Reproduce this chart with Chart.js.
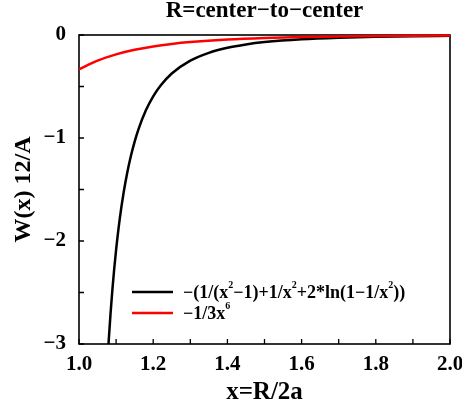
<!DOCTYPE html>
<html><head><meta charset="utf-8">
<script src="https://cdn.jsdelivr.net/npm/chart.js@4.4.0/dist/chart.umd.min.js"></script>
<style>html,body{margin:0;padding:0;background:#fff}#c{display:block}</style>
</head><body>
<canvas id="c" width="462" height="407"></canvas>
<script>
// Exact interaction curve (black)
const xExact = [1.075,1.08,1.085,1.09,1.095,1.10,1.11,1.12,1.13,1.14,1.15,1.16,1.18,1.20,1.22,1.25,1.30,1.35,1.40,1.45,1.50,1.60,1.70,1.80,1.90,2.00];
const wExact = [-3.281,-2.972,-2.705,-2.472,-2.267,-2.086,-1.781,-1.537,-1.338,-1.173,-1.035,-0.918,-0.734,-0.596,-0.491,-0.374,-0.249,-0.173,-0.124,-0.0916,-0.0689,-0.0410,-0.0258,-0.0169,-0.0114,-0.0080];
// Power-law approximation (red)
const xPower = [1.00,1.05,1.10,1.15,1.20,1.25,1.30,1.40,1.50,1.60,1.70,1.80,1.90,2.00];
const wPower = [-0.3333,-0.2487,-0.1882,-0.1441,-0.1116,-0.0874,-0.0691,-0.0443,-0.0293,-0.0199,-0.0138,-0.0098,-0.0071,-0.0052];

const xTickValues = [1.0,1.2,1.4,1.6,1.8,2.0];
const xTickLabels = ['1.0','1.2','1.4','1.6','1.8','2.0'];
const xMinorTicks = [1.1,1.3,1.5,1.7,1.9];
const yTickValues = [-3,-2,-1,0];
const yTickLabels = ['\u22123','\u22122','\u22121','0'];
const yMinorTicks = [-2.5,-1.5,-0.5];

const titleText = 'R=center\u2212to\u2212center';
const xTitle = 'x=R/2a';
const yTitle = 'W(x) 12/A';
const legendExact = [['\u2212(1/(x',0],['2',1],['\u22121)+1/x',0],['2',1],['+2*ln(1\u22121/x',0],['2',1],['))',0]];
const legendPower = [['\u22121/3x',0],['6',1]];

const FONT = '"Liberation Serif","Times New Roman",serif';

function drawRich(ctx, segs, x, base){
  ctx.textAlign='left'; ctx.textBaseline='alphabetic';
  segs.forEach(([t,sup])=>{
    ctx.font = sup ? 'bold 10px '+FONT : 'bold 18px '+FONT;
    ctx.fillText(t, x, sup ? base-10 : base);
    x += ctx.measureText(t).width;
  });
}

const deco = {
  id:'deco',
  beforeDatasetsDraw(chart){
    const {ctx, chartArea:a, scales:{x,y}} = chart;
    ctx.save();
    ctx.strokeStyle='#000';
    ctx.lineWidth=1.6;
    ctx.strokeRect(a.left, a.top, a.right-a.left, a.bottom-a.top);
    ctx.lineWidth=1.3;
    ctx.beginPath();
    [...xTickValues, ...xMinorTicks].forEach(v=>{const px=x.getPixelForValue(v); ctx.moveTo(px,a.bottom); ctx.lineTo(px,a.bottom-5);});
    [...yTickValues, ...yMinorTicks].forEach(v=>{const py=y.getPixelForValue(v); ctx.moveTo(a.left,py); ctx.lineTo(a.left+5,py);});
    ctx.stroke();
    ctx.restore();
  },
  afterDraw(chart){
    const {ctx, chartArea:a} = chart;
    const cx = (a.left+a.right)/2;
    ctx.save();
    ctx.fillStyle='#000';
    ctx.textAlign='center'; ctx.textBaseline='alphabetic';
    ctx.font='bold 23px '+FONT;
    ctx.fillText(titleText, cx, 17);
    ctx.font='bold 25px '+FONT;
    ctx.fillText(xTitle, cx, 399);
    ctx.save();
    ctx.translate(30, (a.top+a.bottom)/2);
    ctx.rotate(-Math.PI/2);
    ctx.font='bold 24px '+FONT;
    ctx.fillText(yTitle, 0, 0);
    ctx.restore();
    // legend
    const ds = chart.data.datasets;
    const rows = [[ds[0], legendExact, 292], [ds[1], legendPower, 313]];
    rows.forEach(([d, segs, yy])=>{
      ctx.strokeStyle=d.borderColor; ctx.lineWidth=2.5;
      ctx.beginPath(); ctx.moveTo(132,yy); ctx.lineTo(173,yy); ctx.stroke();
      ctx.fillStyle='#000';
      drawRich(ctx, segs, 183, yy+6);
    });
    ctx.restore();
  }
};

new Chart(document.getElementById('c'), {
  type:'line',
  data:{
    datasets:[
      {label:'exact', data:xExact.map((v,i)=>({x:v,y:wExact[i]})), borderColor:'#000000', borderWidth:2.5, pointRadius:0, cubicInterpolationMode:'monotone', fill:false, order:1, clip:{left:4,top:4,right:4,bottom:0}},
      {label:'power', data:xPower.map((v,i)=>({x:v,y:wPower[i]})), borderColor:'#ff0000', borderWidth:2.5, pointRadius:0, cubicInterpolationMode:'monotone', fill:false, order:0, clip:4}
    ]
  },
  options:{
    responsive:false, animation:false, devicePixelRatio:1,
    layout:{padding:{top:35,right:12,left:0,bottom:0}},
    plugins:{legend:{display:false}, tooltip:{enabled:false}, title:{display:false}},
    scales:{
      x:{type:'linear', min:1, max:2,
        grid:{display:false, drawTicks:false}, border:{display:false},
        afterBuildTicks:s=>{s.ticks = xTickValues.map(v=>({value:v}));},
        ticks:{padding:8, color:'#000', font:{family:FONT, size:21, weight:'bold'}, maxRotation:0, autoSkip:false,
          callback:(v)=>{const i=xTickValues.findIndex(t=>Math.abs(t-v)<1e-9); return i>=0?xTickLabels[i]:'';}},
        afterFit:s=>{s.height=63; s.paddingLeft=0; s.paddingRight=0;}
      },
      y:{type:'linear', min:-3, max:0,
        grid:{display:false, drawTicks:false}, border:{display:false},
        afterBuildTicks:s=>{s.ticks = yTickValues.map(v=>({value:v}));},
        ticks:{padding:13, color:'#000', font:{family:FONT, size:21, weight:'bold'}, autoSkip:false,
          callback:(v)=>{const i=yTickValues.findIndex(t=>Math.abs(t-v)<1e-9); return i>=0?yTickLabels[i]:'';}},
        afterFit:s=>{s.width=79; s.paddingTop=0; s.paddingBottom=0;}
      }
    }
  },
  plugins:[deco]
});
</script>
</body></html>
